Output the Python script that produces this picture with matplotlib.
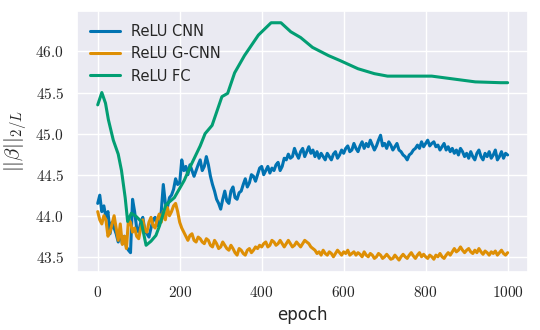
import numpy as np
import matplotlib
matplotlib.use('Agg')
import matplotlib.pyplot as plt
from matplotlib.ticker import FuncFormatter
import seaborn as sns

# CNN and G-CNN are read every 5 epochs (0..1000)
cnn = [44.15, 44.25, 44.05, 44.12, 43.98, 44.05, 43.78, 43.92, 43.85, 43.78,
       43.68, 43.8, 43.66, 43.75, 43.62, 43.58, 43.55, 44.2, 44.05, 43.85,
       43.8, 43.92, 43.98, 43.82, 43.78, 43.74, 43.85, 43.95, 43.98, 43.88,
       43.92, 44.05, 44.38, 44.15, 44.1, 44.22, 44.25, 44.32, 44.45, 44.38,
       44.4, 44.68, 44.55, 44.6, 44.5, 44.62, 44.55, 44.48, 44.55, 44.62,
       44.68, 44.55, 44.6, 44.72, 44.62, 44.48, 44.38, 44.3, 44.2, 44.15,
       44.08, 44.2, 44.3, 44.18, 44.15, 44.3, 44.35, 44.22, 44.2, 44.28,
       44.3, 44.38, 44.45, 44.35, 44.4, 44.5, 44.48, 44.42, 44.5, 44.58,
       44.6, 44.5, 44.55, 44.6, 44.52, 44.58, 44.55, 44.62, 44.65, 44.55,
       44.6, 44.7, 44.68, 44.75, 44.7, 44.72, 44.82, 44.75, 44.7, 44.78,
       44.82, 44.72, 44.78, 44.84, 44.76, 44.8, 44.72, 44.78, 44.7, 44.76,
       44.72, 44.68, 44.76, 44.72, 44.68, 44.75, 44.78, 44.7, 44.74, 44.8,
       44.76, 44.82, 44.85, 44.78, 44.8, 44.88, 44.82, 44.78, 44.85, 44.9,
       44.82, 44.88, 44.84, 44.92, 44.86, 44.8, 44.85, 44.92, 44.98, 44.85,
       44.88, 44.82, 44.9, 44.86, 44.8, 44.84, 44.88, 44.8, 44.78, 44.74,
       44.72, 44.68, 44.74, 44.76, 44.8, 44.82, 44.86, 44.82, 44.9, 44.84,
       44.88, 44.92, 44.85, 44.88, 44.9, 44.84, 44.86, 44.8, 44.84, 44.88,
       44.8, 44.84, 44.78, 44.82, 44.76, 44.8, 44.74, 44.82, 44.78, 44.72,
       44.76, 44.7, 44.78, 44.72, 44.68, 44.76, 44.8, 44.72, 44.68, 44.76,
       44.72, 44.78, 44.7, 44.74, 44.8, 44.68, 44.72, 44.78, 44.7, 44.76,
       44.74]

gcnn = [44.05, 43.95, 43.9, 44.0, 43.95, 43.75, 43.8, 43.9, 44.0, 43.85,
        43.7, 43.9, 43.65, 43.75, 43.6, 43.95, 43.92, 43.8, 43.85, 43.75,
        43.72, 43.85, 43.95, 43.82, 43.8, 43.92, 43.98, 43.88, 43.85, 43.95,
        44.02, 43.92, 44.05, 43.95, 44.1, 44.0, 44.05, 44.12, 44.15, 44.05,
        43.92, 43.85, 43.8, 43.75, 43.7, 43.76, 43.78, 43.7, 43.68, 43.74,
        43.72, 43.68, 43.66, 43.72, 43.7, 43.64, 43.62, 43.7, 43.66, 43.6,
        43.62, 43.68, 43.64, 43.6, 43.58, 43.64, 43.6, 43.55, 43.52, 43.6,
        43.58, 43.54, 43.52, 43.58, 43.6, 43.55, 43.58, 43.62, 43.6, 43.64,
        43.62, 43.66, 43.68, 43.62, 43.64, 43.7, 43.68, 43.64, 43.66, 43.7,
        43.66, 43.62, 43.66, 43.7, 43.66, 43.62, 43.64, 43.68, 43.65, 43.62,
        43.66, 43.7, 43.68, 43.66, 43.62, 43.6, 43.58, 43.54, 43.56, 43.52,
        43.58, 43.54, 43.52, 43.56, 43.54, 43.5, 43.54, 43.58, 43.55, 43.52,
        43.56, 43.54, 43.58, 43.52, 43.54, 43.56, 43.52, 43.55, 43.53, 43.5,
        43.56, 43.52, 43.5, 43.54, 43.52, 43.48, 43.5, 43.54, 43.52, 43.48,
        43.5, 43.53, 43.5, 43.47, 43.48, 43.52, 43.49, 43.46, 43.5, 43.53,
        43.5, 43.48, 43.52, 43.55, 43.51, 43.48, 43.52, 43.55, 43.5, 43.53,
        43.5, 43.48, 43.52, 43.5, 43.47, 43.52, 43.5, 43.54, 43.5, 43.48,
        43.52, 43.55, 43.52, 43.56, 43.6, 43.56, 43.58, 43.62, 43.58, 43.55,
        43.58, 43.6, 43.56, 43.54, 43.58, 43.55, 43.6, 43.56, 43.53, 43.57,
        43.55, 43.52, 43.56, 43.54, 43.57, 43.52, 43.55, 43.58, 43.54, 43.52,
        43.55]
epochs = np.arange(len(cnn)) * 5

# the FC curve is smooth, so fewer points
fc_epochs = [0, 10, 19, 26, 38, 50, 58, 67, 73, 82, 94, 106, 118, 130, 142,
             151, 166, 187, 211, 226, 250, 262, 279, 303, 317, 334, 358, 392,
             423, 447, 471, 495, 524, 563, 591, 635, 675, 707, 748, 815, 921,
             983, 1000]
fc = [45.35, 45.5, 45.37, 45.17, 44.92, 44.75, 44.55, 44.22, 43.93, 44.03,
      43.99, 43.93, 43.64, 43.69, 43.76, 43.88, 44.13, 44.22, 44.43, 44.6,
      44.85, 45.0, 45.1, 45.45, 45.49, 45.74, 45.95, 46.2, 46.35, 46.35,
      46.24, 46.17, 46.05, 45.95, 45.89, 45.79, 45.73, 45.7, 45.7, 45.7,
      45.63, 45.62, 45.62]

sns.set_theme(style='darkgrid', palette='colorblind')
plt.rcParams['mathtext.fontset'] = 'cm'

fig, ax = plt.subplots(figsize=(5.4, 3.3), dpi=100)
fig.subplots_adjust(left=0.143, right=0.978, top=0.967, bottom=0.176)

ax.plot(epochs, cnn, lw=2.2, label='ReLU CNN')
ax.plot(epochs, gcnn, lw=2.2, label='ReLU G-CNN')
ax.plot(fc_epochs, fc, lw=2.2, label='ReLU FC')

# tick labels in computer modern like the original
ax.xaxis.set_major_formatter(FuncFormatter(lambda v, p: f'${v:.0f}$'))
ax.yaxis.set_major_formatter(FuncFormatter(lambda v, p: f'${v:.1f}$'))
ax.tick_params(labelsize=11)

ax.set_xlabel('epoch', fontsize=12)
ax.set_ylabel(r'$||\beta||_{2/L}$', fontsize=15)
ax.legend(loc='upper left', frameon=False, fontsize=10.5)

fig.savefig('out.png')
